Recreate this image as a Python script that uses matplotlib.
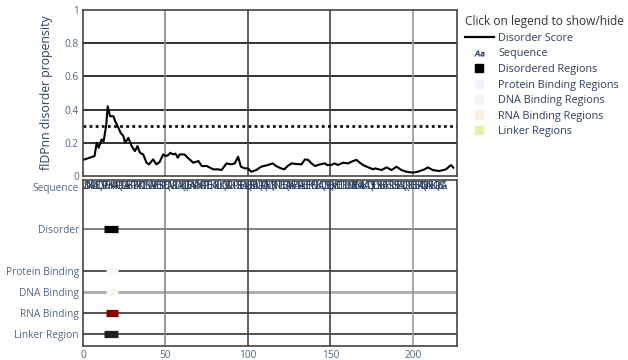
import matplotlib
matplotlib.use("Agg")
import matplotlib.pyplot as plt
from matplotlib.lines import Line2D

plt.rcParams['font.family'] = ['Open Sans', 'DejaVu Sans']

# Disorder score profile (residue position, propensity)
score_pos = [1, 4, 7, 8.3, 9.5, 11.3, 12.5, 14, 15, 16.4, 18.5, 19.5, 21.5, 22.8, 24.5,
             25.5, 27.5, 29.5, 31.5, 33, 34.5, 36.5, 38.5, 40, 42.5, 44.5, 46.5, 48.6,
             50, 51.5, 53, 54.5, 56, 57.5, 58.5, 60, 61.5, 63.5, 66.9, 70, 72, 75, 79,
             82, 84, 87, 89.6, 92, 94, 95.7, 98, 100, 102, 105, 108, 112, 115, 117, 120,
             122, 124, 126.5, 129.5, 132.5, 134.5, 136.5, 138.5, 140.6, 143.6, 146.7,
             148, 150.5, 152.5, 154.5, 157.6, 160.6, 163.6, 165.8, 167.8, 169.8, 172.9,
             176, 177, 181, 184, 187, 190, 193, 196, 200, 203, 207, 209, 212, 216, 220,
             223, 224.5]
score_val = [0.10, 0.11, 0.12, 0.20, 0.17, 0.22, 0.21, 0.30, 0.42, 0.36, 0.36, 0.33, 0.29,
             0.26, 0.24, 0.20, 0.23, 0.18, 0.15, 0.18, 0.14, 0.13, 0.08, 0.07, 0.10, 0.07,
             0.085, 0.13, 0.12, 0.125, 0.14, 0.13, 0.135, 0.11, 0.13, 0.13, 0.13, 0.11,
             0.08, 0.09, 0.06, 0.06, 0.04, 0.04, 0.036, 0.076, 0.07, 0.076, 0.116, 0.056,
             0.046, 0.046, 0.026, 0.036, 0.056, 0.066, 0.076, 0.06, 0.046, 0.04, 0.06,
             0.076, 0.072, 0.07, 0.10, 0.097, 0.076, 0.06, 0.07, 0.076, 0.066, 0.066,
             0.076, 0.066, 0.08, 0.076, 0.09, 0.097, 0.08, 0.066, 0.052, 0.04, 0.046,
             0.036, 0.052, 0.036, 0.056, 0.036, 0.026, 0.02, 0.026, 0.04, 0.052, 0.036,
             0.03, 0.04, 0.066, 0.05]
threshold = 0.3

sequence = ("MSDNKRLAEQGSPTEVKKAAPQRSGSAEKPTEAPKDTLSNGAVKEESKPEQTAVSRLDAQ"
            "KQLEEAAKPVNGKTPEEIKAELLKQGVSLDKIRSEFEALQKEREALQRRQAEMQSKINTL"
            "EEQARKAEEALRAELEEKYEVLKAQLTSEQEKVKELTDKLVSMEKENAALKATQSELDSK"
            "LKEAESRLSELEAQLQKTKEELERAQNEIAELKQRLSGA")

# Annotation tracks and their regions (start, end)
track_names = ["Sequence", "Disorder", "Protein Binding", "DNA Binding",
               "RNA Binding", "Linker Region"]
track_y = [7, 5, 3, 2, 1, 0]
regions = {
    "Disorder": (13, 21),
    "Protein Binding": (14, 21),
    "DNA Binding": (14, 21),
    "RNA Binding": (14, 21),
    "Linker Region": (13, 21),
}
region_colors = {
    "Disorder": "#000000",
    "Protein Binding": "#f4f7ff",
    "DNA Binding": "#f3fbf1",
    "RNA Binding": "#8b0000",
    "Linker Region": "#1e1e1a",
}

legend_labels = ["Disorder Score", "Sequence", "Disordered Regions",
                 "Protein Binding Regions", "DNA Binding Regions",
                 "RNA Binding Regions", "Linker Regions"]
legend_colors = ["#000000", "#2a3f5f", "#000000", "#eef3ff", "#eef8ec",
                 "#fdeee2", "#e6f2a8"]

tick_color = "#506784"
text_color = "#2a3f5f"
xticks = [0, 50, 100, 150, 200]
yticks = [0, 0.2, 0.4, 0.6, 0.8, 1]

fig = plt.figure(figsize=(6.28, 3.60), dpi=100)
ax1 = fig.add_axes([83 / 628, 1 - 176 / 360, 374 / 628, 166 / 360])
ax2 = fig.add_axes([83 / 628, 1 - 346 / 360, 374 / 628, 166 / 360])

xmax = 226.7
for ax in (ax1, ax2):
    ax.set_xlim(0, xmax)
    for s in ax.spines.values():
        s.set_color("#444444")
        s.set_linewidth(1.2)
    ax.tick_params(length=0, labelsize=7.3, colors=tick_color, pad=3)

vgrid_colors = {50: "#888888", 100: "#444444", 150: "#444444", 200: "#999999"}

# Top panel: disorder propensity
ax1.set_ylim(0, 1)
ax1.set_yticks(yticks)
ax1.set_yticklabels(["0", "0.2", "0.4", "0.6", "0.8", "1"])
ax1.set_xticks([])
for yv in yticks[1:-1]:
    ax1.axhline(yv, color="#222222", lw=1.3, zorder=1)
for xv, c in vgrid_colors.items():
    ax1.axvline(xv, color=c, lw=1.2, zorder=1)
ax1.axhline(threshold, color="#111111", lw=2.0, ls=(0, (1, 1.2)), zorder=2)
ax1.plot(score_pos, score_val, color="#000000", lw=1.5, zorder=3)
ax1.set_ylabel("flDPnn disorder propensity", fontsize=8.8, color=text_color, labelpad=8)

# Bottom panel: annotation tracks
ax2.set_ylim(-0.57, 7.33)
ax2.set_yticks(track_y)
ax2.set_yticklabels(track_names)
ax2.set_xticks(xticks)
ax2.set_xticklabels([str(v) for v in xticks])
hgrid_colors = {5: "#777777", 3: "#444444", 2: "#aaaaaa", 1: "#444444", 0: "#444444"}
for yv, c in hgrid_colors.items():
    ax2.axhline(yv, color=c, lw=1.3 if yv != 2 else 2.0, zorder=1)
for xv, c in vgrid_colors.items():
    ax2.axvline(xv, color=c, lw=1.2, zorder=1)

for name, y in zip(track_names, track_y):
    if name in regions:
        s, e = regions[name]
        ax2.plot([s, e], [y, y], color=region_colors[name], lw=5.2,
                 solid_capstyle="butt", zorder=3)

for i, ch in enumerate(sequence):
    ax2.text(i + 1, track_y[0], ch, fontsize=7, color=text_color,
             ha="center", va="center", zorder=3, clip_on=True)

# Legend
handles = [Line2D([], [], color=legend_colors[0], lw=1.6),
           Line2D([], [], ls="none", marker="$Aa$", color=legend_colors[1],
                  markersize=7, markeredgewidth=0.3)]
for c in legend_colors[2:]:
    handles.append(Line2D([], [], ls="none", marker="s", markersize=5.5,
                          markerfacecolor=c, markeredgecolor=c))
leg = fig.legend(handles, legend_labels, loc="upper left",
                 bbox_to_anchor=(461 / 628, 1 - 11 / 360), frameon=False,
                 fontsize=7.8, labelcolor=text_color, handlelength=2.6,
                 handletextpad=0.45, labelspacing=0.42, borderaxespad=0,
                 title="Click on legend to show/hide", title_fontsize=8.6)
leg._legend_box.align = "left"
leg.get_title().set_color("#333333")

fig.savefig("out.png", dpi=100)
